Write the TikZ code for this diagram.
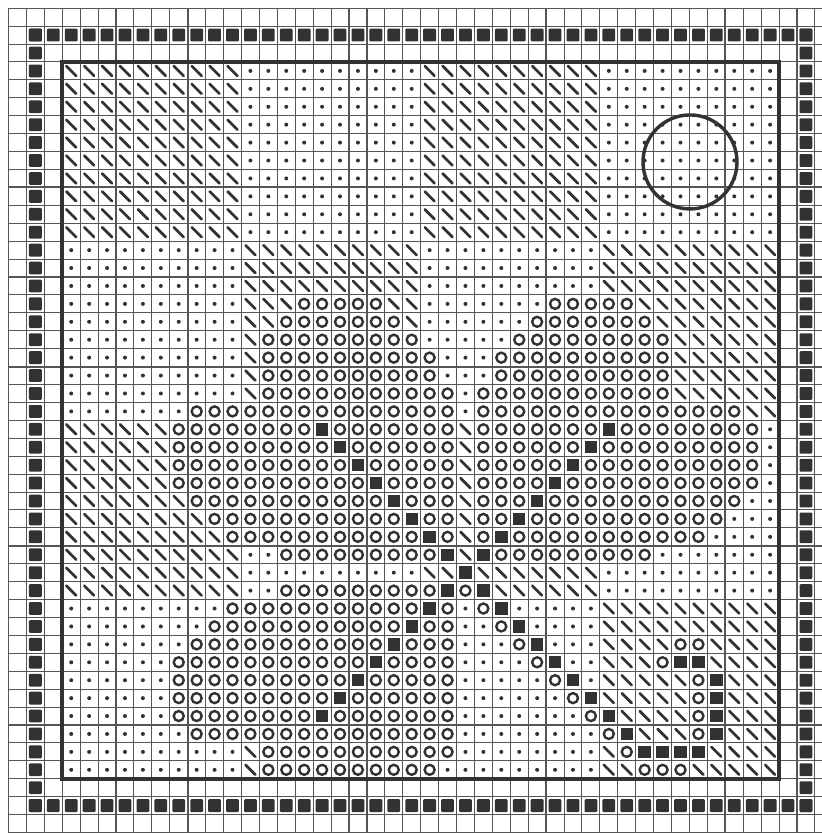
\documentclass[tikz,border=0pt]{standalone}
\usepackage{tikz}
\definecolor{ink}{RGB}{50,50,50}
\definecolor{gridc}{RGB}{85,85,85}
\tikzset{
  diagsym/.style={draw=ink, line width=2.7pt, line cap=round},
  dotsym/.style={fill=ink},
  ringsym/.style={draw=ink, line width=2.4pt},
  blocksym/.style={fill=ink},
  gridline/.style={draw=gridc, line width=1.05pt},
  majorline/.style={draw=gridc, line width=1.8pt},
  frameline/.style={draw=ink, line width=3.6pt},
  bordersq/.style={fill=ink, rounded corners=1pt},
  markring/.style={draw=ink, line width=3.4pt}
}
\makeatletter
\newcount\mycellrow
\newcount\mycellcol
\def\chartrow#1#2{\mycellrow=#1\relax\mycellcol=0\relax\chart@parse#2\relax}
\def\chart@parse#1{\ifx\relax#1\else\chart@cell#1\advance\mycellcol by 1\relax\expandafter\chart@parse\fi}
\def\chart@cell#1{%
  \if#1d\draw[diagsym] (\the\mycellcol+3.5,\the\mycellrow+3.5) +(-4.9pt,4.9pt) -- +(4.9pt,-4.9pt);\fi
  \if#1p\fill[dotsym] (\the\mycellcol+3.5,\the\mycellrow+3.5) circle (2pt);\fi
  \if#1o\draw[ringsym] (\the\mycellcol+3.5,\the\mycellrow+3.5) circle (5pt);\fi
  \if#1f\fill[blocksym] (\the\mycellcol+3.5,\the\mycellrow+3.5) +(-6.2pt,-6.2pt) rectangle +(6.2pt,6.2pt);\fi}
\makeatother
\begin{document}
\begin{tikzpicture}[x=17.92pt,y=-17.92pt]
\useasboundingbox (-0.4743,-0.4576) rectangle (45.396,46.027);
\fill[white] (-0.4743,-0.4576) rectangle (45.396,46.027);
\clip (-0.4743,-0.4576) rectangle (45.396,46.027);
% thin grid
\foreach \k in {0,...,45} \draw[gridline] (\k,0) -- (\k,46.2);
\foreach \k in {0,...,46} \draw[gridline] (0,\k) -- (45.6,\k);
% major grid
\foreach \k in {10,20,30,40} {\draw[majorline] (\k,0) -- (\k,46.2); \draw[majorline] (0,\k) -- (45.6,\k);}
% chart symbols
\foreach \r in {0,...,9} {\chartrow{\r}{dddddddddd pppppppppp dddddddddd pppppppppp}}
\foreach \r in {10,11,12} {\chartrow{\r}{pppppppppp dddddddddd pppppppppp dddddddddd}}
\chartrow{13}{pppppppppp dddooooodd pppppppooo oodddddddd}
\chartrow{14}{pppppppppp ddoooooood ppppppoooo oooddddddd}
\chartrow{15}{pppppppppp dooooooooo pppppooooo oooodddddd}
\chartrow{16}{pppppppppp dooooooooo opppoooooo oooodddddd}
\chartrow{17}{pppppppppp dooooooooo opppoooooo oooodddddd}
\chartrow{18}{pppppppppp dooooooooo oopooooooo oooodddddd}
\chartrow{19}{pppppppooo oooooooooo oopooooooo oooooooodd}
\chartrow{20}{ddddddoooo oooofooooo oodooooooo foooooooop}
\chartrow{21}{ddddddoooo ooooofoooo oodoooooof ooooooooop}
\chartrow{22}{ddddddoooo oooooofooo oodooooofo ooooooooop}
\chartrow{23}{ddddddoooo ooooooofoo oodoooofoo ooooooooop}
\chartrow{24}{dddddddooo oooooooofo oodooofooo oooooooopp}
\chartrow{25}{ddddddddoo ooooooooof oodoofoooo oooooooppp}
\chartrow{26}{dddddddddo oooooooooo fodofooooo oooooopppp}
\chartrow{27}{dddddddddd ppoooooooo ofdfoooooo oooppppppp}
\chartrow{28}{dddddddddd pppppppppp ddfddddddd pppppppppp}
\chartrow{29}{dddddddddd ppoooooooo ofofdddddd pppppppppp}
\chartrow{30}{pppppppppo oooooooooo fopofppppp dddddddddd}
\chartrow{31}{ppppppppoo ooooooooof ooppofpppp dddddddddd}
\chartrow{32}{pppppppooo oooooooofo oopppofppp ddddoodddd}
\chartrow{33}{ppppppoooo ooooooofoo ooppppofpp dddoffdddd}
\chartrow{34}{ppppppoooo oooooofooo oopppppofp dddddofddd}
\chartrow{35}{ppppppoooo ooooofoooo ooppppppof dddddofddd}
\chartrow{36}{ppppppoooo oooofooooo oopppppppo fddddofddd}
\chartrow{37}{pppppppooo oooooooooo oopppppppp ofdddofddd}
\chartrow{38}{pppppppppp dooooooooo oopppppppp doffffdddd}
\chartrow{39}{pppppppppp dooooooooo oppppppppp ddoooddddd}
% inner frame
\draw[frameline] (3,3) rectangle (43,43);
% border squares
\foreach \k in {1,...,44} {
  \fill[bordersq] (\k+0.5,1.5) +(-6.4pt,-6.4pt) rectangle +(6.4pt,6.4pt);
  \fill[bordersq] (\k+0.5,44.5) +(-6.4pt,-6.4pt) rectangle +(6.4pt,6.4pt);
  \fill[bordersq] (1.5,\k+0.5) +(-6.4pt,-6.4pt) rectangle +(6.4pt,6.4pt);
  \fill[bordersq] (44.5,\k+0.5) +(-6.4pt,-6.4pt) rectangle +(6.4pt,6.4pt);
}
% marking circle
\draw[markring] (38.03,8.58) circle (47pt);
\end{tikzpicture}
\end{document}
